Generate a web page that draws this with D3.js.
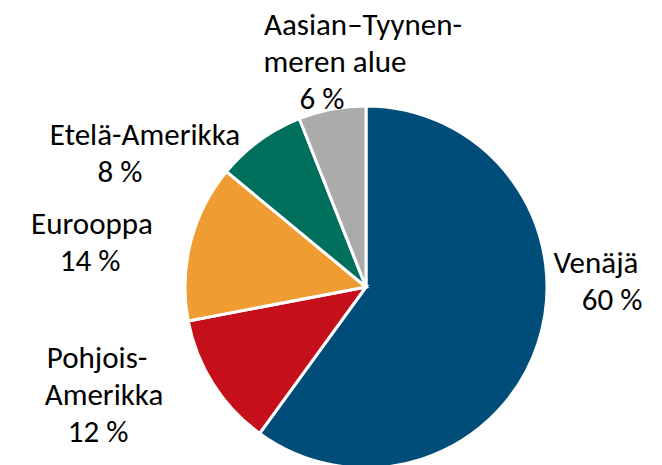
<!DOCTYPE html>
<html>
<head>
<meta charset="utf-8">
<script src="https://cdn.jsdelivr.net/npm/d3@7"></script>
<style>
  body { margin: 0; background: #fff; }
  svg { display: block; }
  .lbl { font-family: Carlito, Calibri, Lato, sans-serif; font-size: 31px; fill: #000; }
</style>
</head>
<body>
<div id="chart"></div>
<script>
"use strict";
// regions, in the order the slices are drawn (clockwise from 12 o'clock)
var regions = ["Venäjä", "Pohjois-Amerikka", "Eurooppa", "Etelä-Amerikka", "Aasian–Tyynenmeren alue"];
var shares = [60, 12, 14, 8, 6];
var sliceColors = ["#004d7a", "#c50f1a", "#ef9c33", "#00705c", "#ababab"];
// how the labels wrap, as in the original
var labelText = [
  ["Venäjä"],
  ["Pohjois-", "Amerikka"],
  ["Eurooppa"],
  ["Etelä-Amerikka"],
  ["Aasian–Tyynen-", "meren alue"]
];

var w = 662, h = 465, rad = 181;
var cx = 366, cy = 287;

// label placement: centre x of each line, baseline of first line
var labelPos = [
  { xs: [596, 612], y: 273 },
  { xs: [97, 104, 98], y: 368 },
  { xs: [92, 90], y: 234 },
  { xs: [145, 120], y: 145 },
  { xs: [363, 335, 322], y: 35 }
];
var lineH = 37;

var data = regions.map(function(r, i) {
  return { name: r, value: shares[i], color: sliceColors[i], lines: labelText[i].concat([shares[i] + " %"]) };
});

var svg = d3.select("#chart").append("svg")
  .attr("width", w)
  .attr("height", h);

var pie = d3.pie()
  .sort(null)
  .value(function(d) { return d.value; });

var arc = d3.arc().innerRadius(0).outerRadius(rad);

var g = svg.append("g").attr("transform", "translate(" + cx + "," + cy + ")");

g.selectAll("path")
  .data(pie(data))
  .enter()
  .append("path")
  .attr("d", arc)
  .attr("fill", function(d) { return d.data.color; })
  .attr("stroke", "#fff")
  .attr("stroke-width", 3)
  .attr("stroke-linejoin", "miter");

var labels = svg.append("g").selectAll("text")
  .data(data)
  .enter()
  .append("text")
  .attr("class", "lbl")
  .attr("text-anchor", "middle");

labels.each(function(d, i) {
  var t = d3.select(this), p = labelPos[i];
  d.lines.forEach(function(line, j) {
    t.append("tspan")
      .attr("x", p.xs[j])
      .attr("y", p.y + j * lineH)
      .text(line);
  });
});
</script>
</body>
</html>
